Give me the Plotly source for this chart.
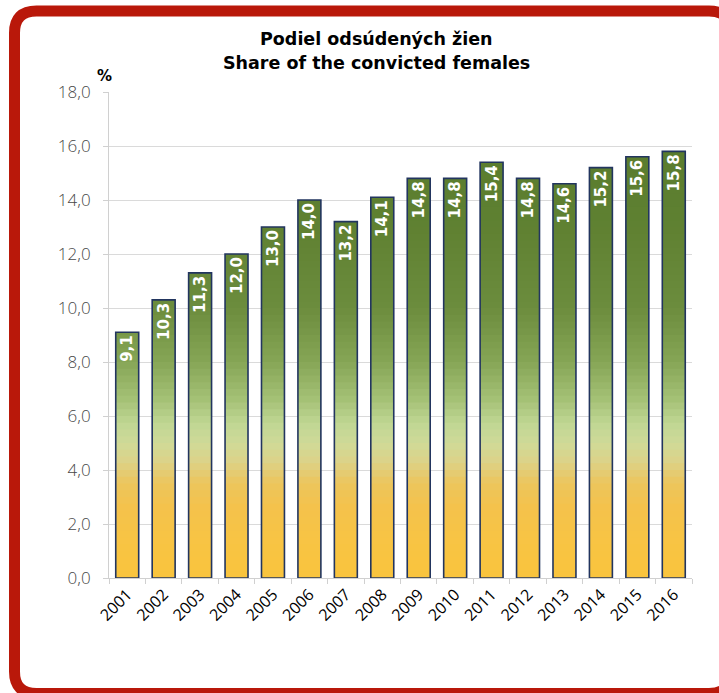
import numpy as np
import plotly.graph_objects as go

# ---- data ----
years = ["2001", "2002", "2003", "2004", "2005", "2006", "2007", "2008",
         "2009", "2010", "2011", "2012", "2013", "2014", "2015", "2016"]
share = [9.1, 10.3, 11.3, 12.0, 13.0, 14.0, 13.2, 14.1,
         14.8, 14.8, 15.4, 14.8, 14.6, 15.2, 15.6, 15.8]
title_sk = "Podiel odsúdených žien"
title_en = "Share of the convicted females"
y_unit = "%"

# ---- style ----
W, H = 719, 693
ML, MR, MT, MB = 109, 27, 92, 115
PW, PH = W - ML - MR, H - MT - MB

grad_stops = [(0.0, "#F9C43E"), (1.3, "#F8C443"), (2.6, "#F4C24C"), (3.5, "#ECC55C"),
              (4.3, "#DDD288"), (5.0, "#CFDA98"), (5.7, "#C0D794"), (6.6, "#A5C176"),
              (8.0, "#86A656"), (10.0, "#6C8C3D"), (13.0, "#5F8132"), (18.0, "#56782A")]


def hex2rgb(h):
    h = h.lstrip("#")
    return np.array([int(h[i:i + 2], 16) for i in (0, 2, 4)], dtype=float)


def color_at(v):
    for (a, ca), (b, cb) in zip(grad_stops[:-1], grad_stops[1:]):
        if a <= v <= b:
            t = (v - a) / (b - a) if b > a else 0
            c = hex2rgb(ca) * (1 - t) + hex2rgb(cb) * t
            return "rgb(%d,%d,%d)" % tuple(np.round(c))
    return grad_stops[-1][1]


fig = go.Figure()
vals = np.array(share)
step = 0.25
bands = np.arange(0, 18, step)
for b in bands:
    h = np.clip(vals - b, 0, step * 2.2)
    fig.add_trace(go.Bar(
        x=years, y=h, base=[b] * len(years),
        marker=dict(color=color_at(b + step / 2), line=dict(width=0)),
        hoverinfo="skip", showlegend=False))

# outline + labels
fig.add_trace(go.Bar(
    x=years, y=share,
    marker=dict(color="rgba(0,0,0,0)", line=dict(color="#22355F", width=1.6)),
    texttemplate="%{y:.1f}", textposition="inside", insidetextanchor="end",
    textangle=-90, constraintext="none",
    textfont=dict(family="DejaVu Sans", size=15, color="white", weight="bold"),
    showlegend=False))


def px2paper(px, py):
    return (px - ML) / PW, (H - MB - py) / PH


# rounded red frame
L, T, R, B, rad = 14.5, 11, 731, 693.5, 22


def P(x, y):
    xp, yp = px2paper(x, y)
    return "%.5f,%.5f" % (xp, yp)


path = ("M " + P(L + rad, T) + " L " + P(R - rad, T) + " Q " + P(R, T) + " " + P(R, T + rad)
        + " L " + P(R, B - rad) + " Q " + P(R, B) + " " + P(R - rad, B)
        + " L " + P(L + rad, B) + " Q " + P(L, B) + " " + P(L, B - rad)
        + " L " + P(L, T + rad) + " Q " + P(L, T) + " " + P(L + rad, T) + " Z")

title_font = dict(family="DejaVu Sans", size=17.5, color="black", weight="bold")
fig.update_layout(
    width=W, height=H, autosize=False,
    margin=dict(l=ML, r=MR, t=MT, b=MB),
    paper_bgcolor="white", plot_bgcolor="white",
    barmode="overlay", bargap=0.37,
    separators=", ",
    shapes=[dict(type="path", path=path, xref="paper", yref="paper",
                 line=dict(color="#B9180A", width=11), fillcolor="rgba(0,0,0,0)",
                 layer="above")],
    annotations=[
        dict(text=title_sk, x=px2paper(376, 0)[0], y=px2paper(0, 39)[1], xref="paper", yref="paper",
             xanchor="center", yanchor="middle", showarrow=False, font=title_font),
        dict(text=title_en, x=px2paper(376, 0)[0], y=px2paper(0, 63)[1], xref="paper", yref="paper",
             xanchor="center", yanchor="middle", showarrow=False, font=title_font),
        dict(text=y_unit, x=px2paper(104, 0)[0], y=px2paper(0, 76)[1],
             xref="paper", yref="paper", xanchor="center", yanchor="middle", showarrow=False,
             font=dict(family="DejaVu Sans", size=15, color="black", weight="bold"))],
    xaxis=dict(type="category", showgrid=False, showline=True, linecolor="#D0D0D0",
               ticks="outside", tickson="boundaries", ticklen=5, tickcolor="#D0D0D0",
               tickangle=-45, tickfont=dict(family="Open Sans", size=16, color="black")),
    yaxis=dict(range=[0, 18], dtick=2, tickformat=".1f", showgrid=True,
               gridcolor="#DADADA", gridwidth=1, showline=True, linecolor="#D0D0D0",
               ticks="outside", ticklen=5, tickcolor="#D0D0D0", zeroline=False,
               ticklabelstandoff=9,
               tickfont=dict(family="Open Sans", size=17, color="#484848", weight=300)),
)

fig.write_html("out.html", config={"displayModeBar": False},
               post_script="document.body.style.margin='0';document.body.style.overflow='hidden';")
